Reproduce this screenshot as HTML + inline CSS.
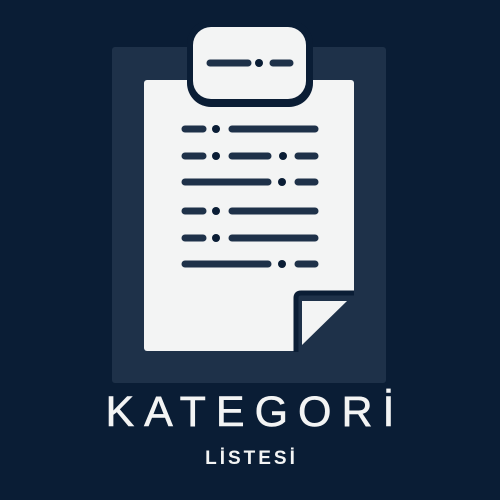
<!DOCTYPE html>
<html><head><meta charset="utf-8"><style>
body{margin:0;width:500px;height:500px;background:#0a1d35;overflow:hidden;position:relative;font-family:"Liberation Sans",sans-serif}
.t{position:absolute;left:0;width:500px;text-align:center;color:#f3f4f4}
</style></head><body>
<svg width="500" height="500" style="position:absolute;left:0;top:0">
<rect x="112" y="47" width="274" height="336" rx="3" fill="#1e3149"/>
<rect x="144" y="80" width="210" height="271" rx="3" fill="#f3f4f4"/>
<rect x="187" y="20" width="126" height="87" rx="24" fill="#0a1d35"/>
<rect x="193" y="27" width="113" height="72" rx="18" fill="#f3f4f4"/>
<g stroke="#1e3149" stroke-width="7" stroke-linecap="round">
<line x1="210" y1="63" x2="248" y2="63"/><line x1="273" y1="63" x2="290" y2="63"/>
<line x1="185" y1="129" x2="203" y2="129"/><line x1="232" y1="129" x2="315" y2="129"/>
<line x1="185" y1="156" x2="203" y2="156"/><line x1="232" y1="156" x2="268" y2="156"/><line x1="298" y1="156" x2="315" y2="156"/>
<line x1="185" y1="182" x2="268" y2="182"/><line x1="298" y1="182" x2="315" y2="182"/>
<line x1="185" y1="211" x2="203" y2="211"/><line x1="232" y1="211" x2="315" y2="211"/>
<line x1="185" y1="238" x2="203" y2="238"/><line x1="232" y1="238" x2="315" y2="238"/>
<line x1="185" y1="264" x2="268" y2="264"/><line x1="298" y1="264" x2="315" y2="264"/>
</g>
<g fill="#0a1d35">
<circle cx="259" cy="63" r="4"/><circle cx="216" cy="129" r="4"/><circle cx="216" cy="156" r="4"/><circle cx="283" cy="156" r="4"/>
<circle cx="282" cy="182" r="4"/><circle cx="216" cy="211" r="4"/><circle cx="216" cy="238" r="4"/><circle cx="282" cy="264" r="4"/>
</g>
<path d="M294 352 V298 Q294 291 301 291 H356 V352 Z" fill="#1e3149"/>
<path d="M296 352 V298 Q296 293 301 293 H354" fill="none" stroke="#0a1d35" stroke-width="5"/>
<path d="M302 345 V301 H347 Z" fill="#f3f4f4"/>
</svg>
<div class="t" style="top:388px;font-size:43px;letter-spacing:10px;text-indent:10px;line-height:48px;-webkit-text-stroke:0.6px #f3f4f4">KATEGORİ</div>
<div class="t" style="top:447px;font-size:19px;font-weight:bold;letter-spacing:3px;text-indent:3px;line-height:24px">LİSTESİ</div>
</body></html>
